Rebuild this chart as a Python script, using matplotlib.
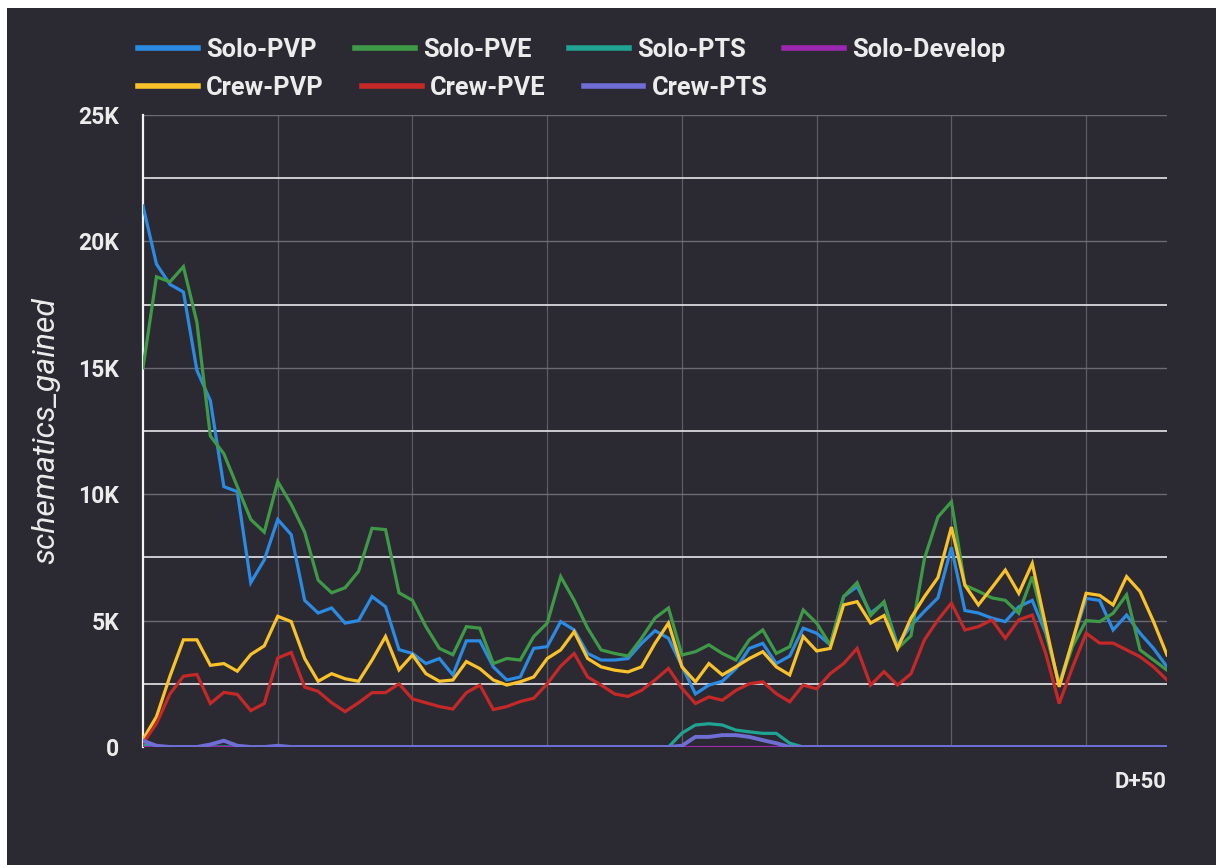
import matplotlib
matplotlib.use("Agg")
import matplotlib.pyplot as plt
from matplotlib.patches import Rectangle
from matplotlib.ticker import FuncFormatter, MultipleLocator

# ---------------------------------------------------------------------------
# Data (in thousands of schematics)
# ---------------------------------------------------------------------------
solo_pvp = [21.4, 19.1, 18.3, 18.0, 14.9, 13.7, 10.3, 10.1, 6.5, 7.4,
            9.0, 8.4, 5.8, 5.3, 5.5, 4.9, 5.0, 5.95, 5.55, 3.85,
            3.7, 3.3, 3.5, 2.85, 4.2, 4.2, 3.17, 2.65, 2.77, 3.9,
            3.97, 4.96, 4.63, 3.7, 3.44, 3.44, 3.5, 4.1, 4.6, 4.3,
            3.2, 2.1, 2.45, 2.6, 3.1, 3.9, 4.1, 3.3, 3.6, 4.7,
            4.5, 4.04, 5.95, 6.35, 5.3, 5.7, 4.04, 4.8, 5.37, 5.9,
            7.9, 5.4, 5.3, 5.1, 4.96, 5.55, 5.8, 4.5, 2.5, 4.2,
            5.88, 5.8, 4.63, 5.22, 4.5, 3.9, 3.17]
solo_pve = [15.0, 18.6, 18.4, 19.0, 16.8, 12.3, 11.6, 10.3, 9.0, 8.5,
            10.5, 9.6, 8.5, 6.6, 6.1, 6.3, 6.95, 8.65, 8.6, 6.1,
            5.8, 4.76, 3.9, 3.65, 4.76, 4.7, 3.3, 3.5, 3.44, 4.37,
            4.9, 6.74, 5.8, 4.7, 3.84, 3.7, 3.6, 4.3, 5.1, 5.5,
            3.64, 3.77, 4.04, 3.7, 3.44, 4.24, 4.63, 3.7, 3.97, 5.42,
            4.9, 4.04, 5.95, 6.5, 5.2, 5.75, 3.9, 4.4, 7.46, 9.1,
            9.7, 6.4, 6.16, 5.9, 5.8, 5.29, 6.74, 4.6, 2.45, 4.0,
            5.0, 4.96, 5.29, 6.02, 3.84, 3.44, 3.04]
solo_pts = [0.1, 0, 0, 0, 0, 0, 0, 0, 0, 0,
            0, 0, 0, 0, 0, 0, 0, 0, 0, 0,
            0, 0, 0, 0, 0, 0, 0, 0, 0, 0,
            0, 0, 0, 0, 0, 0, 0, 0, 0, 0,
            0.55, 0.87, 0.92, 0.87, 0.67, 0.6, 0.54, 0.54, 0.15, 0,
            0, 0, 0, 0, 0, 0, 0, 0, 0, 0,
            0, 0, 0, 0, 0, 0, 0, 0, 0, 0,
            0, 0, 0, 0, 0, 0, 0]
solo_develop = [0] * 77
crew_pvp = [0.3, 1.2, 2.8, 4.24, 4.24, 3.23, 3.3, 3.0, 3.66, 4.0,
            5.17, 4.96, 3.5, 2.6, 2.9, 2.7, 2.6, 3.44, 4.37, 3.05,
            3.64, 2.9, 2.6, 2.65, 3.38, 3.1, 2.65, 2.45, 2.58, 2.77,
            3.5, 3.84, 4.56, 3.5, 3.17, 3.04, 2.97, 3.17, 4.1, 4.9,
            3.17, 2.58, 3.3, 2.85, 3.17, 3.5, 3.77, 3.17, 2.85, 4.37,
            3.8, 3.9, 5.62, 5.75, 4.9, 5.2, 3.9, 5.1, 5.95, 6.7,
            8.7, 6.4, 5.62, 6.3, 7.0, 6.08, 7.26, 4.8, 2.38, 4.23,
            6.08, 6.0, 5.62, 6.74, 6.15, 4.96, 3.64]
crew_pve = [0.15, 0.93, 2.1, 2.8, 2.87, 1.72, 2.16, 2.08, 1.44, 1.72,
            3.52, 3.74, 2.37, 2.2, 1.75, 1.4, 1.75, 2.15, 2.15, 2.5,
            1.9, 1.75, 1.6, 1.5, 2.15, 2.45, 1.48, 1.6, 1.8, 1.93,
            2.5, 3.2, 3.7, 2.77, 2.45, 2.1, 2.0, 2.24, 2.65, 3.11,
            2.32, 1.72, 1.98, 1.85, 2.24, 2.5, 2.58, 2.11, 1.79, 2.45,
            2.3, 2.9, 3.3, 3.9, 2.45, 2.98, 2.45, 2.9, 4.24, 5.03,
            5.69, 4.63, 4.76, 5.03, 4.3, 5.03, 5.22, 3.7, 1.72, 3.17,
            4.5, 4.11, 4.11, 3.84, 3.57, 3.17, 2.65]
crew_pts = [0.25, 0.05, 0, 0, 0, 0.1, 0.25, 0.05, 0, 0,
            0.05, 0, 0, 0, 0, 0, 0, 0, 0, 0,
            0, 0, 0, 0, 0, 0, 0, 0, 0, 0,
            0, 0, 0, 0, 0, 0, 0, 0, 0, 0,
            0.05, 0.4, 0.4, 0.47, 0.47, 0.4, 0.27, 0.15, 0, 0,
            0, 0, 0, 0, 0, 0, 0, 0, 0, 0,
            0, 0, 0, 0, 0, 0, 0, 0, 0, 0,
            0, 0, 0, 0, 0, 0, 0]

series_names = ["Solo-PVP", "Solo-PVE", "Solo-PTS", "Solo-Develop",
                "Crew-PVP", "Crew-PVE", "Crew-PTS"]
series_values = [solo_pvp, solo_pve, solo_pts, solo_develop,
                 crew_pvp, crew_pve, crew_pts]
series_colors = ["#2b8ae2", "#3f9a48", "#1fa393", "#9c27b0",
                 "#f9c22a", "#c62828", "#6e6ed4"]
last_label = "D+50"

# ---------------------------------------------------------------------------
# Figure
# ---------------------------------------------------------------------------
BG = "#2b2a32"
TXT = "#ececec"
W, H = 1216, 865

plt.rcParams["font.family"] = ["Roboto", "DejaVu Sans"]

fig = plt.figure(figsize=(W / 100, H / 100), dpi=100, facecolor="white")
# dark card with a thin white margin on the top and left edges
fig.patches.append(Rectangle((7 / W, 0), 1, 1 - 8 / H, transform=fig.transFigure,
                             facecolor=BG, edgecolor="none", zorder=-10))

ax = fig.add_axes([143 / W, 1 - 747 / H, (1167 - 143) / W, (747 - 115) / H])
ax.set_facecolor(BG)

days = list(range(len(solo_pvp)))
lines = []
for name, vals, col in zip(series_names, series_values, series_colors):
    (ln,) = ax.plot(days, [v * 1000 for v in vals], color=col, lw=2.3,
                    label=name, solid_joinstyle="miter", zorder=3)
    lines.append(ln)
lines[-1].set_linewidth(2.8)  # the zero baseline reads a bit heavier

ax.set_xlim(0, len(days) - 1)
ax.set_ylim(0, 25000)

# y grid: labelled 5K lines are dim, the in-between 2.5K lines are bright
ax.yaxis.set_major_locator(MultipleLocator(5000))
ax.yaxis.set_minor_locator(MultipleLocator(2500))
ax.yaxis.set_major_formatter(FuncFormatter(
    lambda v, _: "0" if v == 0 else f"{int(v / 1000)}K"))
ax.grid(True, which="major", axis="y", color="#6c6b73", lw=1.0, zorder=1)
ax.grid(True, which="minor", axis="y", color="#d8d8dc", lw=1.3, zorder=1)

ax.set_xticks([])
ax.set_xticks(range(10, len(days) - 1, 10), minor=True)
ax.grid(True, which="minor", axis="x", color="#5e5d66", lw=0.9, zorder=1)
ax.tick_params(axis="x", which="both", length=0, labelbottom=False)

ax.tick_params(axis="y", which="both", length=0, pad=17, labelsize=16.5,
               labelcolor=TXT)
for t in ax.get_yticklabels():
    t.set_fontweight("bold")

for s in ("top", "right", "bottom"):
    ax.spines[s].set_visible(False)
ax.spines["left"].set_color("#f2f2f2")
ax.spines["left"].set_linewidth(1.6)

fig.text(46 / W, 1 - 431 / H, "schematics_gained", rotation=90, ha="center",
         va="center", color=TXT, fontsize=23, style="italic")
fig.text(1167 / W, 1 - 782 / H, last_label, ha="right", va="center",
         color=TXT, fontsize=16, fontweight="bold")

leg_kw = dict(loc="center left", frameon=False, borderpad=0, borderaxespad=0,
              handlelength=2.35, handletextpad=0.33, columnspacing=1.5,
              labelcolor=TXT, prop={"size": 18.3, "weight": "bold"})
leg1 = fig.legend(handles=lines[:4], ncol=4,
                  bbox_to_anchor=(138 / W, 1 - 50 / H), **leg_kw)
leg2 = fig.legend(handles=lines[4:], ncol=3,
                  bbox_to_anchor=(138 / W, 1 - 88 / H), **leg_kw)
for leg in (leg1, leg2):
    for h in leg.legend_handles:
        h.set_linewidth(4)

fig.savefig("out.png", dpi=100, facecolor="white")
